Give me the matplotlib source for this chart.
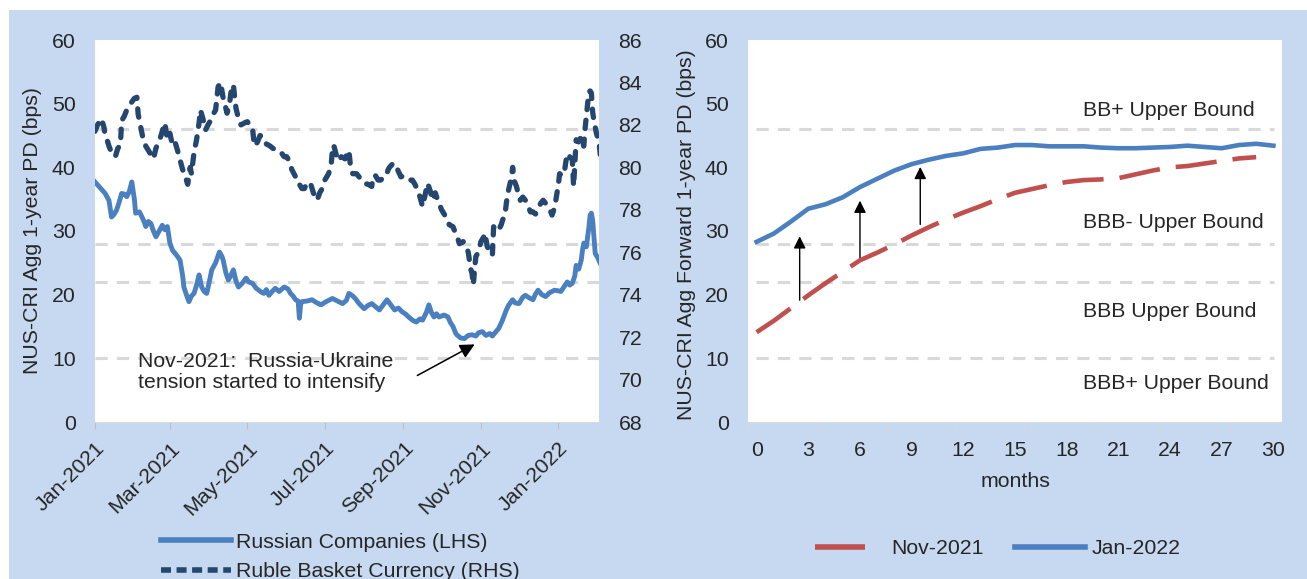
import matplotlib
matplotlib.use("Agg")
import matplotlib.pyplot as plt
import numpy as np
import pandas as pd
from matplotlib.patches import Rectangle
from matplotlib.lines import Line2D

plt.rcParams['font.family'] = ['Liberation Sans', 'DejaVu Sans']

# ---------------- data: left panel (days since 2021-01-01) ----------------
start_date = "2021-01-01"
ru_day = [0, 4, 8, 11, 13, 15, 17, 19, 21, 23, 25, 27, 29, 31, 32, 35, 37, 39, 40, 42, 44, 46, 48, 50,
          53, 55, 57, 59, 61, 63, 65, 67, 69, 70, 72, 74, 76, 78, 80, 82, 84, 86, 88, 90, 92, 95, 98, 100,
          101, 103, 105, 107, 109, 111, 113, 116, 119, 121, 124, 127, 129, 131, 133, 135, 137, 140, 142,
          145, 149, 152, 154, 156, 158, 160, 161, 162, 163, 167, 171, 174, 178, 182, 187, 191, 195, 198,
          200, 203, 205, 208, 212, 215, 218, 221, 224, 227, 230, 233, 236, 239, 242, 245, 247, 250, 253,
          256, 258, 261, 263, 265, 267, 269, 271, 275, 278, 280, 282, 284, 285, 288, 291, 294, 297, 300,
          302, 305, 308, 311, 313, 315, 318, 321, 324, 326, 329, 331, 334, 337, 339, 342, 345, 347, 349,
          352, 355, 358, 362, 365, 367, 370, 372, 374, 376, 378, 379, 381, 383, 384, 385, 387, 389, 390,
          391, 392, 393, 394, 396, 398]
ru_pd = [37.7, 36.8, 35.9, 34.8, 32.2, 32.6, 33.3, 34.5, 35.9, 35.8, 35.4, 36.2, 37.7, 35.0, 32.8, 33.0,
         32.2, 31.3, 30.7, 31.5, 31.2, 30.0, 29.1, 29.8, 30.9, 30.2, 30.7, 28.1, 27.0, 26.5, 26.0, 25.4,
         23.0, 21.2, 20.0, 18.9, 19.8, 20.2, 21.5, 23.1, 21.2, 20.5, 20.2, 22.0, 23.9, 25.0, 26.7, 26.0,
         25.4, 23.5, 22.3, 23.0, 23.9, 22.2, 21.2, 21.8, 22.6, 22.0, 21.8, 21.0, 20.7, 20.4, 20.2, 20.8,
         19.9, 20.6, 21.0, 20.5, 21.2, 20.9, 20.2, 19.8, 19.2, 19.0, 16.3, 18.5, 18.9, 19.0, 19.2, 18.8,
         18.4, 18.9, 19.4, 19.0, 18.6, 19.1, 20.2, 19.8, 19.4, 18.6, 17.8, 18.3, 18.6, 18.1, 17.6, 18.4,
         19.2, 18.4, 17.6, 17.9, 17.3, 16.9, 16.5, 16.0, 15.7, 16.2, 16.0, 17.2, 18.4, 17.2, 16.5, 17.0,
         16.5, 16.8, 16.5, 15.6, 15.0, 14.0, 13.7, 13.2, 13.1, 13.6, 13.7, 13.5, 14.0, 14.2, 13.6, 13.9,
         13.5, 14.0, 14.7, 16.0, 17.6, 18.4, 19.2, 18.7, 18.6, 19.6, 19.9, 19.5, 19.2, 20.1, 20.7, 20.0,
         19.7, 20.3, 20.7, 20.6, 20.5, 21.4, 22.0, 21.5, 21.8, 23.0, 24.6, 24.0, 25.4, 27.0, 28.1, 27.5,
         30.5, 32.5, 32.8, 31.7, 29.0, 26.5, 25.8, 24.9]

rub_day = [0, 2, 5, 7, 8, 10, 11, 13, 16, 18, 20, 21, 23, 25, 28, 31, 33, 34, 36, 38, 40, 42, 44, 46, 48,
           51, 53, 55, 57, 59, 61, 63, 65, 67, 69, 71, 73, 75, 76, 78, 80, 82, 83, 85, 87, 89, 91, 93, 95,
           97, 99, 100, 101, 103, 104, 106, 107, 109, 110, 111, 113, 115, 118, 120, 122, 124, 125, 126,
           128, 130, 132, 135, 138, 140, 143, 146, 149, 151, 153, 155, 158, 159, 161, 163, 165, 167, 170,
           172, 175, 177, 179, 181, 184, 186, 187, 188, 190, 192, 194, 197, 199, 200, 201, 203, 206, 208,
           210, 212, 215, 218, 219, 221, 223, 225, 227, 229, 231, 232, 235, 237, 239, 241, 243, 245, 248,
           250, 252, 254, 256, 258, 260, 262, 264, 266, 268, 270, 273, 275, 277, 279, 282, 284, 286, 287,
           290, 292, 294, 295, 296, 297, 298, 299, 300, 302, 304, 306, 307, 308, 309, 311, 313, 314, 316,
           318, 320, 321, 323, 324, 325, 326, 328, 329, 330, 332, 333, 335, 337, 339, 341, 343, 345, 347,
           349, 351, 353, 355, 357, 359, 360, 362, 363, 365, 366, 368, 370, 371, 372, 374, 376, 377, 378,
           379, 381, 383, 384, 385, 386, 387, 388, 389, 390, 391, 392, 393, 394, 395, 396, 397, 398]
rub_val = [81.7, 82.0, 82.3, 81.9, 81.5, 81.2, 81.0, 80.7, 80.5, 80.9, 81.05, 82.2, 82.4, 82.7, 83.0,
           83.25, 83.3, 82.5, 81.9, 81.3, 81.0, 80.8, 80.6, 80.4, 80.9, 81.3, 81.7, 82.1, 81.3, 81.6, 81.05,
           81.2, 80.8, 80.35, 79.9, 79.6, 79.2, 80.0, 79.7, 80.7, 81.3, 82.1, 82.7, 82.3, 81.75, 82.0, 82.2,
           82.5, 82.7, 83.8, 84.0, 83.6, 83.25, 82.8, 82.55, 83.0, 83.5, 83.9, 83.3, 82.8, 82.3, 82.0, 82.1,
           82.15, 82.0, 81.9, 81.3, 81.0, 81.2, 81.5, 81.45, 81.1, 81.0, 80.9, 80.8, 80.75, 80.5, 80.5,
           80.3, 79.9, 79.55, 79.3, 79.2, 79.0, 79.0, 79.3, 79.2, 78.8, 78.45, 78.8, 79.0, 79.4, 79.7, 80.1,
           80.8, 81.05, 80.6, 80.3, 80.5, 80.4, 80.7, 80.8, 80.2, 79.7, 79.7, 79.55, 79.4, 79.25, 79.2,
           79.1, 79.6, 79.6, 79.4, 79.4, 79.5, 79.55, 79.9, 80.0, 80.2, 80.1, 79.8, 79.55, 79.6, 79.5, 79.4,
           79.4, 79.2, 78.95, 78.6, 78.15, 78.7, 79.25, 78.9, 78.45, 78.8, 78.45, 78.0, 77.8, 77.6, 77.3,
           77.2, 76.9, 76.6, 76.4, 76.5, 76.35, 76.0, 75.6, 75.2, 75.0, 74.45, 75.2, 75.8, 76.0, 76.5, 76.7,
           76.9, 76.6, 76.25, 76.1, 75.85, 77.2, 77.0, 77.05, 77.3, 77.5, 77.8, 78.3, 78.7, 79.0, 79.5, 80.0,
           79.4, 79.1, 78.85, 78.45, 78.6, 78.45, 78.2, 77.9, 77.9, 77.8, 78.0, 78.3, 78.45, 78.3, 78.15,
           77.9, 77.75, 78.1, 78.45, 79.2, 79.7, 79.6, 79.9, 80.3, 80.65, 80.5, 80.35, 79.1, 80.2, 81.3,
           81.2, 81.45, 81.2, 81.0, 81.8, 82.4, 83.0, 83.55, 83.6, 83.5, 82.6, 82.2, 81.9, 81.6, 81.4,
           81.2, 80.6]

rating_bounds = [46, 28, 22, 10]
left_ticklabel_dates = ["2021-01-01", "2021-03-01", "2021-05-01", "2021-07-01",
                        "2021-09-01", "2021-11-01", "2022-01-01"]

# ---------------- data: right panel ----------------
months = list(range(31))
jan2022 = [28.3, 29.6, 31.5, 33.5, 34.2, 35.3, 36.9, 38.2, 39.5, 40.5, 41.2, 41.8, 42.2, 42.9, 43.1,
           43.5, 43.5, 43.3, 43.3, 43.3, 43.1, 43.0, 43.0, 43.1, 43.2, 43.4, 43.2, 43.0, 43.5, 43.7, 43.4]
nov_months = list(range(30))
nov2021 = [14.1, 15.9, 17.9, 19.9, 21.8, 23.6, 25.4, 26.6, 27.9, 29.3, 30.6, 31.8, 32.9, 33.9, 35.0,
           36.0, 36.6, 37.2, 37.7, 38.0, 38.1, 38.3, 38.9, 39.5, 40.0, 40.2, 40.6, 41.0, 41.4, 41.6]
rating_labels = ["BB+ Upper Bound", "BBB- Upper Bound", "BBB Upper Bound", "BBB+ Upper Bound"]
rating_label_y = [49.0, 31.4, 17.3, 6.0]
arrow_x = [2.5, 6.0, 9.5]
arrow_from = [18.7, 25.4, 30.6]
arrow_to = [29.6, 35.2, 40.5]

# ---------------- styling ----------------
BG = '#c6d9f0'
GRID = '#d9d9d9'
TXT = '#262626'
LBLUE = '#4a7fc0'
NAVY = '#24466f'
RED = '#c0504d'
FS = 15.3

W, H = 1307, 579
fig = plt.figure(figsize=(W / 100, H / 100), dpi=100, facecolor='white')
fig.patches.append(Rectangle((9 / W, 0), 1 - 9 / W, 1 - 10 / H, transform=fig.transFigure,
                             facecolor=BG, edgecolor='none', zorder=-10))

def fx(px):
    return px / W

def fy(py):
    return 1 - py / H

# ---------- left panel ----------
axL = fig.add_axes([fx(95), fy(422), fx(599) - fx(95), fy(40) - fy(422)])
axL.set_facecolor('white')
t0 = pd.Timestamp(start_date)
ru_dates = t0 + pd.to_timedelta(ru_day, unit='D')
rub_dates = t0 + pd.to_timedelta(rub_day, unit='D')

for b in rating_bounds:
    axL.axhline(b, color=GRID, lw=2.2, dashes=(4, 3), zorder=1)

axL.plot(ru_dates, ru_pd, color=LBLUE, lw=3.5, zorder=3, solid_joinstyle='round')
axL.set_ylim(0, 60)
axL.set_yticks(range(0, 61, 10))
axL.set_xlim(t0, t0 + pd.Timedelta(days=397))
tick_dates = pd.to_datetime(left_ticklabel_dates)
axL.set_xticks(tick_dates)
axL.set_xticklabels([d.strftime('%b-%Y') for d in tick_dates], rotation=45, ha='right',
                    rotation_mode='anchor', fontsize=FS, color=TXT)
axL.tick_params(axis='x', length=5, color='#bfbfbf', pad=7)
axL.tick_params(axis='y', length=0, pad=14, labelsize=FS, labelcolor=TXT)
for s in ['top', 'left', 'right']:
    axL.spines[s].set_visible(False)
axL.spines['bottom'].set_color('#d9d9d9')
axL.set_ylabel('NUS-CRI Agg 1-year PD (bps)', fontsize=FS, color=TXT)
axL.yaxis.set_label_coords(-0.105, 0.5)

axR = axL.twinx()
axR.plot(rub_dates, rub_val, color=NAVY, lw=3.8, zorder=4, dash_capstyle='round',
         dashes=(1.6, 2.0))
axR.set_ylim(68, 86)
axR.set_yticks(range(68, 87, 2))
axR.tick_params(axis='y', length=0, pad=14, labelsize=FS, labelcolor=TXT)
for s in axR.spines.values():
    s.set_visible(False)

axR.annotate('', xy=(t0 + pd.Timedelta(days=301), 12.4 * 18 / 60 + 68),
             xytext=(t0 + pd.Timedelta(days=252), 7.1 * 18 / 60 + 68),
             arrowprops=dict(arrowstyle='-|>', color='black', lw=1.1, mutation_scale=22),
             zorder=6)
axL.text(t0 + pd.Timedelta(days=34), 11.0, 'Nov-2021:  Russia-Ukraine\ntension started to intensify',
         fontsize=FS, color=TXT, va='top', ha='left', linespacing=1.12, zorder=6)

handles = [Line2D([], [], color=LBLUE, lw=4),
           Line2D([], [], color=NAVY, lw=4, dashes=(1.8, 1.0))]
fig.legend(handles, ['Russian Companies (LHS)', 'Ruble Basket Currency (RHS)'],
           loc='upper left', bbox_to_anchor=(fx(152), fy(524)), frameon=False,
           fontsize=FS, handlelength=3.3, handletextpad=0.25, labelspacing=0.5,
           labelcolor=TXT, borderaxespad=0)

# ---------- right panel ----------
ax2 = fig.add_axes([fx(748), fy(422), fx(1282) - fx(748), fy(40) - fy(422)])
ax2.set_facecolor('white')
for b in rating_bounds:
    ax2.axhline(b, color=GRID, lw=2.2, dashes=(4, 3), zorder=1, xmin=0.015, xmax=0.985)
ax2.plot(nov_months, nov2021, color=RED, lw=3.3, dashes=(9, 3.5), zorder=3)
ax2.plot(months, jan2022, color=LBLUE, lw=3.3, zorder=4)
for xa, y0, y1 in zip(arrow_x, arrow_from, arrow_to):
    ax2.annotate('', xy=(xa, y1), xytext=(xa, y0),
                 arrowprops=dict(arrowstyle='-|>', color='black', lw=1.0, mutation_scale=18),
                 zorder=6)
for lab, yy in zip(rating_labels, rating_label_y):
    ax2.text(18.95, yy, lab, fontsize=FS, color=TXT, va='center', ha='left', zorder=5)
ax2.set_xlim(-0.5, 30.5)
ax2.set_ylim(0, 60)
ax2.set_yticks(range(0, 61, 10))
ax2.set_xticks(range(0, 31, 3))
ax2.set_xticks(np.arange(-0.5, 30.6, 4), minor=True)
ax2.tick_params(axis='x', which='major', length=0, pad=14, labelsize=FS, labelcolor=TXT)
ax2.tick_params(axis='x', which='minor', length=5, color='#d9d9d9')
ax2.tick_params(axis='y', length=0, pad=14, labelsize=FS, labelcolor=TXT)
for s in ['top', 'left', 'right']:
    ax2.spines[s].set_visible(False)
ax2.spines['bottom'].set_color('#d9d9d9')
ax2.set_xlabel('months', fontsize=FS, color=TXT, labelpad=8)
ax2.set_ylabel('NUS-CRI Agg Forward 1-year PD (bps)', fontsize=FS, color=TXT)
ax2.yaxis.set_label_coords(-0.097, 0.49)

hr = Line2D([], [], color=RED, lw=4, dashes=(9, 4))
hb = Line2D([], [], color=LBLUE, lw=4)
fig.legend([hr, hb], ['Nov-2021', 'Jan-2022'], loc='center left',
           bbox_to_anchor=(fx(806), fy(549)), frameon=False, ncol=2, fontsize=FS,
           handlelength=3.3, handletextpad=0.3, columnspacing=1.5, labelcolor=TXT,
           borderaxespad=0)

fig.savefig('out.png', dpi=100, facecolor=fig.get_facecolor())
